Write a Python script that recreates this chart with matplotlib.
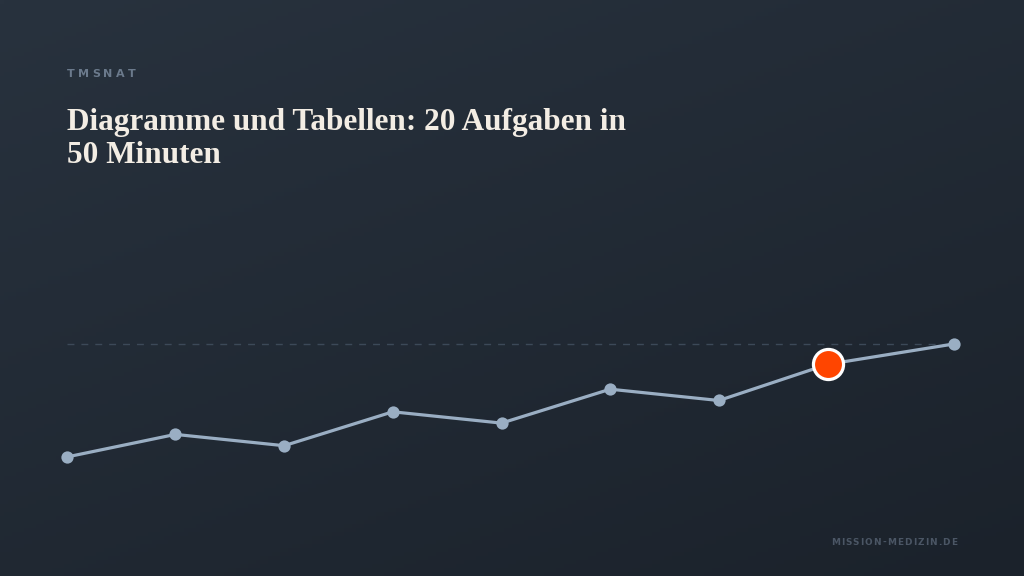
import matplotlib.pyplot as plt
import numpy as np

# data
x_pos = [0, 1, 2, 3, 4, 5, 6, 7, 8.16]
scores = [8, 10, 9, 12, 11, 14, 13, 16.2, 18]
highlight = 7
kicker = "TMSNAT"
title = "Diagramme und Tabellen: 20 Aufgaben in\n50 Minuten"
footer = "MISSION-MEDIZIN.DE"

W, H = 1024, 576
fig = plt.figure(figsize=(W / 100, H / 100), dpi=100)

# gradient background
bg = fig.add_axes([0, 0, 1, 1])
gx, gy = np.meshgrid(np.linspace(0, 1, 256), np.linspace(0, 1, 144))
t = np.clip((gx * 0.4 + gy * 0.6), 0, 1)
c0 = np.array([0x28, 0x32, 0x3e]) / 255
c1 = np.array([0x1b, 0x22, 0x2b]) / 255
img = c0[None, None, :] * (1 - t[..., None]) + c1[None, None, :] * t[..., None]
bg.imshow(img, extent=[0, 1, 0, 1], aspect='auto', origin='upper')
bg.axis('off')

ax = fig.add_axes([0, 0, 1, 1])
ax.patch.set_alpha(0)
ax.axis('off')
# pixel mapping: 108.7 px per x unit, 11.3 px per score unit
ax.set_xlim(-66.7 / 108.7, (W - 66.7) / 108.7)
ax.set_ylim(8 - 119 / 11.3, 8 + 457 / 11.3)

ax.plot([x_pos[0], x_pos[-1]], [max(scores)] * 2, color='#3c4958',
        lw=1, dashes=(5, 5), zorder=1)
ax.plot(x_pos, scores, color='#9aaec3', lw=2.3, zorder=2)
others = [i for i in range(len(scores)) if i != highlight]
ax.scatter([x_pos[i] for i in others], [scores[i] for i in others],
           s=78, color='#9aaec3', zorder=3, linewidths=0)
ax.scatter([x_pos[highlight]], [scores[highlight]], s=470, color='#ff4500',
           edgecolors='white', linewidths=2.3, zorder=4)


def spaced_text(x, y, s, spacing, ha='left', **kw):
    # draw letter by letter with extra tracking (pixel coords from top-left)
    r = fig.canvas.get_renderer()
    widths = []
    for ch in s:
        tt = fig.text(0, 0, ch, **kw)
        widths.append(tt.get_window_extent(r).width)
        tt.remove()
    total = sum(widths) + spacing * (len(s) - 1)
    px = x if ha == 'left' else x - total
    for ch, w in zip(s, widths):
        fig.text(px / W, 1 - y / H, ch, va='baseline', **kw)
        px += w + spacing


spaced_text(67, 77, kicker, 3.2, fontsize=8, color='#6b7a8c',
            fontweight='bold', family='DejaVu Sans')
# baseline anchor of a multi-line text is the last line
fig.text(67 / W, 1 - 163 / H, title, fontsize=22.5, color='#f3ede4',
         family='Liberation Serif', fontweight='bold', va='baseline',
         linespacing=1.18)
spaced_text(957, 545, footer, 1.1, ha='right', fontsize=6.4,
            color='#4b5665', fontweight='bold', family='DejaVu Sans')

fig.savefig('out.png', dpi=100)
